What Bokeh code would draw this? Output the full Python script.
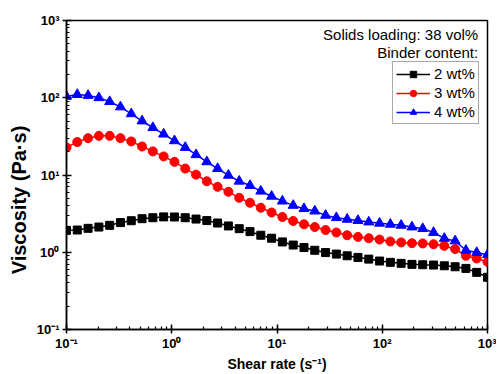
from bokeh.plotting import figure
from bokeh.models import Legend, LegendItem, Label, CustomJSTickFormatter, LogTicker
from bokeh.embed import file_html
from bokeh.resources import INLINE

# Shear rate (1/s), 40 log-spaced points
shear_rate = [0.1, 0.1266, 0.1603, 0.2031, 0.2572, 0.3257, 0.4125, 0.5223, 0.6615, 0.8377,
              1.061, 1.343, 1.701, 2.154, 2.728, 3.455, 4.375, 5.540, 7.017, 8.886,
              11.25, 14.25, 18.05, 22.86, 28.94, 36.65, 46.42, 58.78, 74.44, 94.28,
              119.4, 151.2, 191.5, 242.5, 307.0, 388.8, 492.4, 623.6, 789.6, 1000.0]

visc_2wt = [1.92, 1.94, 2.04, 2.12, 2.23, 2.42, 2.56, 2.72, 2.80, 2.87,
            2.86, 2.80, 2.69, 2.57, 2.39, 2.19, 2.02, 1.85, 1.66, 1.52,
            1.36, 1.24, 1.15, 1.06, 0.99, 0.946, 0.90, 0.857, 0.815, 0.77,
            0.74, 0.718, 0.697, 0.689, 0.683, 0.668, 0.649, 0.618, 0.549, 0.474]

visc_3wt = [22.7, 26.7, 30.0, 32.1, 32.1, 30.0, 27.2, 23.4, 20.2, 17.4,
            14.8, 12.1, 10.1, 8.3, 7.03, 6.06, 5.07, 4.37, 3.77, 3.27,
            2.86, 2.54, 2.30, 2.12, 1.94, 1.80, 1.66, 1.58, 1.52, 1.46,
            1.38, 1.34, 1.31, 1.30, 1.27, 1.21, 1.10, 0.90, 0.83, 0.75]

visc_4wt = [104, 110, 107, 100, 89, 76, 62, 50, 41, 33.8,
            27.7, 22.7, 18.3, 14.8, 12.1, 9.9, 8.3, 7.3, 6.17, 5.3,
            4.59, 4.04, 3.66, 3.41, 3.00, 2.80, 2.67, 2.57, 2.46, 2.37,
            2.30, 2.23, 2.12, 2.02, 1.80, 1.51, 1.40, 1.06, 0.99, 0.93]

labels = ["2 wt%", "3 wt%", "4 wt%"]
colors = ["black", "red", "blue"]
markers = ["square", "circle", "triangle"]
marker_sizes = [8, 9, 10]

FONT = "Liberation Sans"

p = figure(width=496, height=374, x_axis_type="log", y_axis_type="log",
           x_range=(0.1, 1000), y_range=(0.1, 1000),
           output_backend="svg", toolbar_location=None,
           min_border_left=66, min_border_right=9, min_border_top=20, min_border_bottom=43)

p.background_fill_color = "white"
p.border_fill_color = "white"
p.grid.visible = False
p.outline_line_color = "black"
p.outline_line_width = 1.5

sup = CustomJSTickFormatter(code="""
const e = Math.round(Math.log10(tick));
const m = {'-':'\u207B','0':'\u2070','1':'\u00B9','2':'\u00B2','3':'\u00B3','4':'\u2074','5':'\u2075','6':'\u2076','7':'\u2077','8':'\u2078','9':'\u2079'};
return '10' + String(e).split('').map(c => m[c]).join('');
""")

for ax in (p.xaxis[0], p.yaxis[0]):
    ax.ticker = LogTicker(num_minor_ticks=10)
    ax.formatter = sup
    ax.axis_line_width = 1.5
    ax.axis_line_color = "black"
    ax.major_tick_line_width = 1.5
    ax.minor_tick_line_width = 1.2
    ax.major_tick_in = 5
    ax.major_tick_out = 4
    ax.minor_tick_in = 3
    ax.minor_tick_out = 0
    ax.major_label_text_font = FONT
    ax.major_label_text_font_style = "bold"
    ax.major_label_text_font_size = "13px"
    ax.major_label_text_color = "black"
    ax.axis_label_text_font = FONT
    ax.axis_label_text_font_style = "bold"
    ax.axis_label_text_color = "black"

p.xaxis.axis_label = "Shear rate (s\u207B\u00B9)"
p.xaxis.axis_label_text_font_size = "14px"
p.xaxis.major_label_standoff = 2
p.xaxis.axis_label_standoff = 2

# trailing non-breaking spaces move the title slightly below the frame centre, as in the original
p.yaxis.axis_label = "Viscosity (Pa\u00B7s)" + "\u00A0" * 9
p.yaxis.axis_label_text_font_size = "20px"
p.yaxis.major_label_standoff = 3
p.yaxis.axis_label_standoff = 4

series = [visc_2wt, visc_3wt, visc_4wt]
items = []
for vals, lab, col, mk, ms in zip(series, labels, colors, markers, marker_sizes):
    ln = p.line(shear_rate, vals, line_color=col, line_width=1.5)
    sc = p.scatter(shear_rate, vals, marker=mk, size=ms, fill_color=col, line_color=col)
    items.append(LegendItem(label=lab, renderers=[ln, sc]))

legend = Legend(items=items, location=(326, 205))
legend.label_text_font = FONT
legend.label_text_font_size = "15px"
legend.label_text_color = "black"
legend.glyph_width = 34
legend.glyph_height = 16
legend.label_height = 16
legend.label_standoff = 4
legend.spacing = 2
legend.padding = 3
legend.margin = 0
legend.border_line_color = "#555555"
legend.border_line_width = 1
legend.background_fill_alpha = 1
p.add_layout(legend)

p.add_layout(Label(x=815, y=650, text="Solids loading: 38 vol%", text_align="right",
                   text_baseline="middle", text_font=FONT, text_font_size="15px",
                   text_color="black"))
p.add_layout(Label(x=815, y=385, text="Binder content:", text_align="right",
                   text_baseline="middle", text_font=FONT, text_font_size="15px",
                   text_color="black"))

open("out.html", "w").write(file_html(p, INLINE))
